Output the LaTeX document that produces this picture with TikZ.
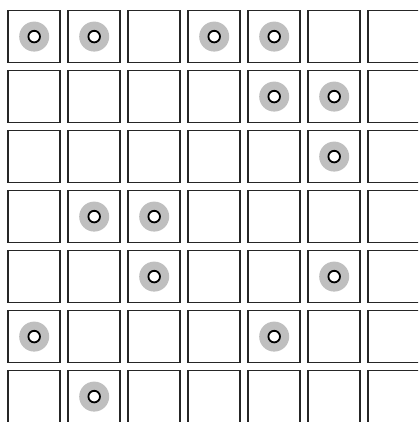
\documentclass[tikz,border=0pt]{standalone}
\begin{document}
\begin{tikzpicture}[x=1pt,y=1pt,
  cell/.style={draw=black!85, line width=1.6pt, minimum size=52pt, inner sep=0pt, fill=white},
  halo/.style={circle, fill=black!25, minimum size=30pt, inner sep=0pt},
  ring/.style={circle, draw=black, fill=white, line width=1.8pt, minimum size=11.6pt, inner sep=0pt}]
\clip (0,0) rectangle (418,422);
\fill[white] (0,0) rectangle (418,422);
\foreach \r in {0,...,6}{
  \foreach \c in {0,...,6}{
    \node[cell] (sq-\r-\c) at ({34.2+60*\c},{422-36.6-60*\r}) {};
  }
}
\foreach \r/\c in {0/0,0/1,0/3,0/4,1/4,1/5,2/5,3/1,3/2,4/2,4/5,5/0,5/4,6/1}{
  \node[halo] (h-\r-\c) at (sq-\r-\c.center) {};
  \node[ring] (o-\r-\c) at (sq-\r-\c.center) {};
}
\end{tikzpicture}
\end{document}
